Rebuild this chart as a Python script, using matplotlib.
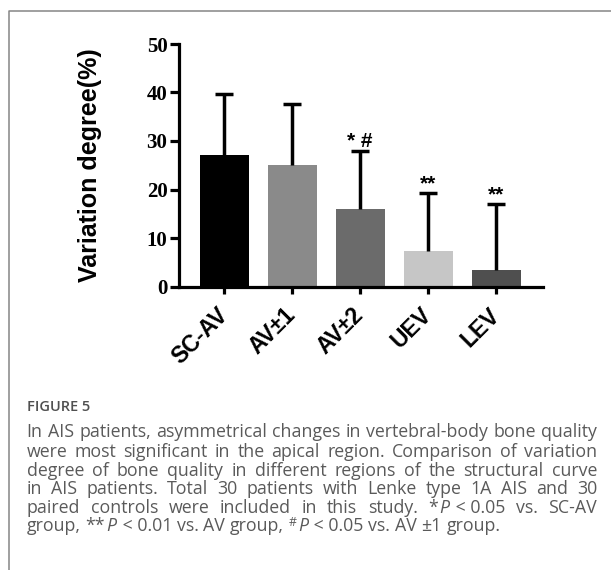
import matplotlib
matplotlib.use("Agg")
import matplotlib.pyplot as plt
from matplotlib.lines import Line2D
import numpy as np

# data
groups = ["SC-AV", "AV\u00b11", "AV\u00b12", "UEV", "LEV"]
means = [27.1, 25.0, 16.0, 7.4, 3.4]
sds = [12.6, 12.6, 12.0, 11.9, 13.6]
marks = ["", "", "* #", "**", "**"]
bar_colors = ["#000000", "#8a8a8a", "#6b6b6b", "#c6c6c6", "#4f4f4f"]

caption_title = "FIGURE 5"
caption_lines = [
    "In AIS patients, asymmetrical changes in vertebral-body bone quality",
    "were most significant in the apical region. Comparison of variation",
    "degree of bone quality in different regions of the structural curve",
    "in AIS patients. Total 30 patients with Lenke type 1A AIS and 30",
]
# lines with italic / superscript pieces: list of words, each word a list of (text, style)
caption_line5 = [[("paired", "n")], [("controls", "n")], [("were", "n")], [("included", "n")],
                 [("in", "n")], [("this", "n")], [("study.", "n")],
                 [("*", "n"), ("P", "i"), (" < 0.05", "n")], [("vs.", "n")], [("SC-AV", "n")]]
caption_line6 = [[("group,", "n")], [("**", "n"), ("P", "i"), (" < 0.01", "n")], [("vs.", "n")],
                 [("AV", "n")], [("group,", "n")], [("#", "s"), ("P", "i"), (" < 0.05", "n")],
                 [("vs.", "n")], [("AV", "n")], [("\u00b11", "n")], [("group.", "n")]]

W, H = 611, 570
fig = plt.figure(figsize=(W / 100, H / 100), dpi=100)
fig.patch.set_facecolor("white")

# axes box in pixels: x 179..543, y(50)=44, y(0)=286.5
ax = fig.add_axes([179.3 / W, 1 - 286.5 / H, (543 - 179.3) / W, (286.5 - 44) / H])

x = np.arange(len(groups))
ax.bar(x, means, width=0.72, color=bar_colors, zorder=2)
eb = ax.errorbar(x, means, yerr=[np.zeros(len(sds)), sds], fmt="none", ecolor="black",
                 elinewidth=2.5, capsize=6.5, capthick=2.5, zorder=3)
# hide the caps at the bar tops (one-sided bars)
eb[1][0].set_visible(False)

for i, m in enumerate(marks):
    if m:
        ax.annotate(m, xy=(x[i], means[i] + sds[i]), xytext=(0, 0), textcoords="offset points",
                    ha="center", va="bottom", fontsize=15, fontweight="bold",
                    family="Liberation Sans", color="black")

ax.set_xlim(-0.66, 4.69)
ax.set_ylim(0, 50)
ax.set_yticks([0, 10, 20, 30, 40, 50])
ax.set_xticks(x)
ax.set_xticklabels(groups, rotation=45, ha="right", va="center", rotation_mode="anchor",
                   fontsize=16.5, fontweight="bold", family="Liberation Sans")
for lab in ax.get_yticklabels():
    lab.set_family("Liberation Serif")
    lab.set_fontweight("bold")
    lab.set_fontsize(15)

for s in ["top", "right"]:
    ax.spines[s].set_visible(False)
for s in ["left", "bottom"]:
    ax.spines[s].set_linewidth(2.3)
ax.tick_params(axis="y", length=6.5, width=2.3, pad=2)
ax.tick_params(axis="x", length=5, width=2.3, pad=13)

ax.set_ylabel("Variation degree(%)", fontsize=18, fontweight="bold", family="Liberation Sans")
ax.yaxis.set_label_coords(-0.2455, 0.5)
ax.yaxis.label.set_va("center")

# frame around the chart panel
fig.add_artist(Line2D([9.3 / W, 9.3 / W, 1.0], [0.0, 1 - 10.7 / H, 1 - 10.7 / H],
                      transform=fig.transFigure, color="#858585", lw=1.1))

# caption
cap_font = "Open Sans"
cap_color = "#5a5a5a"
fig.text(26.7 / W, 1 - 406.7 / H, caption_title, fontsize=10.5, fontweight="semibold",
         family=cap_font, color="#505050", va="center")

fig.canvas.draw()
rend = fig.canvas.get_renderer()
kern = 1.5  # px between style runs inside a word


def text_width(txt, size, style):
    kw = dict(fontsize=size, family=cap_font)
    if style == "i":
        kw["fontstyle"] = "italic"
    if style == "s":
        kw["fontsize"] = size * 0.7
    t = fig.text(0, 0, txt, **kw)
    w = t.get_window_extent(rend).width
    t.remove()
    return w


x_left, x_right = 26.7, 597.0
base = 10
fit = text_width(caption_lines[0], base, "n")
cap_size = base * 566 / fit
space_w = text_width("a a", cap_size, "n") - text_width("aa", cap_size, "n")

words_lines = [[[(w, "n")] for w in ln.split(" ")] for ln in caption_lines]
words_lines += [caption_line5, caption_line6]
line_y = [431.7, 451.7, 470.7, 489.3, 508.3, 526.0]

for k, (words, yy) in enumerate(zip(words_lines, line_y)):
    widths = [sum(text_width(t, cap_size, st) for t, st in wd) + kern * (len(wd) - 1)
              for wd in words]
    if k < len(words_lines) - 1:
        gap = (x_right - x_left - sum(widths)) / (len(words) - 1)
    else:
        gap = space_w
    xx = x_left
    for wd, wsum in zip(words, widths):
        px = xx
        for t, st in wd:
            kw = dict(fontsize=cap_size, family=cap_font, color=cap_color, va="center")
            dy = 0
            if st == "i":
                kw["fontstyle"] = "italic"
            if st == "s":
                kw["fontsize"] = cap_size * 0.7
                dy = -4
            fig.text(px / W, 1 - (yy + dy) / H, t, **kw)
            px += text_width(t, cap_size, st) + kern
        xx += wsum + gap

fig.savefig("out.png", dpi=100)
